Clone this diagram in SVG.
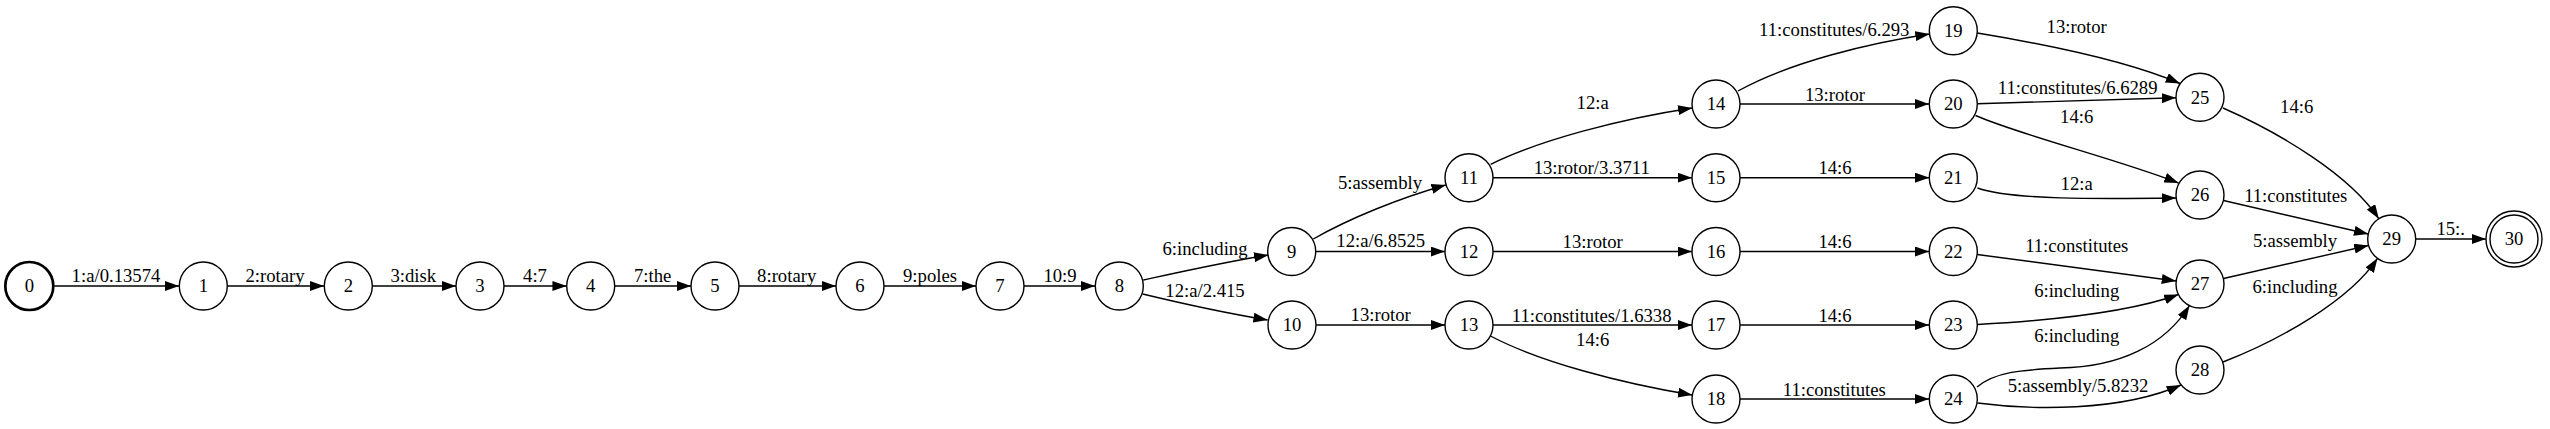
<svg xmlns="http://www.w3.org/2000/svg" width="2550" height="429" viewBox="0 0 2550 429">
<style>
text{font-family:"Liberation Serif","Times New Roman","DejaVu Serif",serif;font-size:18.7px;text-anchor:middle;fill:#000}
.n circle{fill:none;stroke:#000;stroke-width:1.4}
.e path{fill:none;stroke:#000;stroke-width:1.4;marker-end:url(#ah)}
</style>
<defs>
<marker id="ah" viewBox="0 0 10 7" refX="10" refY="3.5" markerWidth="14.3" markerHeight="10" markerUnits="userSpaceOnUse" orient="auto"><path d="M0,0 L10,3.5 L0,7 z" fill="#000"/></marker>
</defs>
<rect width="2550" height="429" fill="#fff"/>
<g id="edges" class="e" font-family="Liberation Serif, serif">
<g id="e0_1"><path d="M54.3,286 H179.3"/><text x="116" y="281.7">1:a/0.13574</text></g>
<g id="e1_2"><path d="M227.3,286 H324.3"/><text x="275" y="281.7">2:rotary</text></g>
<g id="e2_3"><path d="M372.3,286 H456"/><text x="413.3" y="281.7">3:disk</text></g>
<g id="e3_4"><path d="M504,286 H566.7"/><text x="535" y="281.7">4:7</text></g>
<g id="e4_5"><path d="M614.7,286 H691"/><text x="652.7" y="281.7">7:the</text></g>
<g id="e5_6"><path d="M739,286 H836"/><text x="786.7" y="281.7">8:rotary</text></g>
<g id="e6_7"><path d="M884,286 H976"/><text x="930" y="281.7">9:poles</text></g>
<g id="e7_8"><path d="M1024,286 H1095.3"/><text x="1060" y="282.3">10:9</text></g>
<g id="e8_9"><path d="M1143.3,280 C1180,272 1225,262 1268.3,255"/><text x="1205" y="255">6:including</text></g>
<g id="e8_10"><path d="M1142.7,294 C1180,303 1225,313 1267.7,320"/><text x="1205" y="296.7">12:a/2.415</text></g>
<g id="e9_11"><path d="M1313.3,239 C1350,218 1400,198 1445.7,185"/><text x="1380" y="188.7">5:assembly</text></g>
<g id="e9_12"><path d="M1315.7,251.5 H1445"/><text x="1380.7" y="246.7">12:a/6.8525</text></g>
<g id="e10_13"><path d="M1316,325 H1445"/><text x="1380.7" y="320.7">13:rotor</text></g>
<g id="e11_14"><path d="M1490.7,164.3 C1540,140 1620,119 1692.3,108"/><text x="1592.7" y="109">12:a</text></g>
<g id="e11_15"><path d="M1493,177.7 H1692"/><text x="1591.7" y="174">13:rotor/3.3711</text></g>
<g id="e12_16"><path d="M1493,251.5 H1692"/><text x="1592.7" y="248.3">13:rotor</text></g>
<g id="e13_17"><path d="M1493,325 H1692"/><text x="1591.7" y="321.7">11:constitutes/1.6338</text></g>
<g id="e13_18"><path d="M1490.5,336 C1540,362 1620,383 1692.3,395"/><text x="1592.7" y="346">14:6</text></g>
<g id="e14_19"><path d="M1738,91 C1790,62 1870,43 1929.6,34"/><text x="1834.3" y="35.7">11:constitutes/6.293</text></g>
<g id="e14_20"><path d="M1740,104 H1929.3"/><text x="1835" y="101">13:rotor</text></g>
<g id="e15_21"><path d="M1740,177.7 H1929.3"/><text x="1835" y="174">14:6</text></g>
<g id="e16_22"><path d="M1740,251.5 H1929.3"/><text x="1835" y="248.3">14:6</text></g>
<g id="e17_23"><path d="M1740,325 H1929.3"/><text x="1835" y="321.7">14:6</text></g>
<g id="e18_24"><path d="M1740,399 H1929.3"/><text x="1834.3" y="395.7">11:constitutes</text></g>
<g id="e19_25"><path d="M1977.3,33 C2050,45 2130,62 2180,83.5"/><text x="2076.7" y="33.3">13:rotor</text></g>
<g id="e20_25"><path d="M1977.3,103.7 C2050,102 2120,99.5 2176,97.8"/><text x="2077.7" y="94">11:constitutes/6.6289</text></g>
<g id="e20_26"><path d="M1975.5,115.5 C2020,135 2120,160 2178.5,183"/><text x="2076.7" y="122.7">14:6</text></g>
<g id="e21_26"><path d="M1977.5,188 C2010,200 2100,199 2176,198"/><text x="2076.7" y="190">12:a</text></g>
<g id="e22_27"><path d="M1977.3,254.5 C2050,264 2120,273 2176,281"/><text x="2076.7" y="252.3">11:constitutes</text></g>
<g id="e23_27"><path d="M1977.3,324.5 C2060,320 2130,312 2178.5,294.5"/><text x="2076.7" y="296.7">6:including</text></g>
<g id="e24_27"><path d="M1977,387 C1995,372 2020,370 2060,368 C2120,367 2165,345 2189.5,305.5"/><text x="2076.7" y="341.7">6:including</text></g>
<g id="e24_28"><path d="M1977.5,403 C2030,410 2120,412 2181,385"/><text x="2078" y="391.7">5:assembly/5.8232</text></g>
<g id="e25_29"><path d="M2223,108 C2280,133 2350,175 2378.8,218.8"/><text x="2296.7" y="113.3">14:6</text></g>
<g id="e26_29"><path d="M2223.5,200.5 L2368.3,234"/><text x="2295.7" y="201.7">11:constitutes</text></g>
<g id="e27_29"><path d="M2223.5,278.5 L2368.5,245.5"/><text x="2295" y="247.3">5:assembly</text></g>
<g id="e28_29"><path d="M2223,362 C2280,340 2350,300 2377.5,258.3"/><text x="2295" y="293.3">6:including</text></g>
<g id="e29_30"><path d="M2415.7,239 H2486"/><text x="2450.7" y="235">15:.</text></g>
</g>
<g class="n" font-family="Liberation Serif, serif">
<g id="node0"><circle cx="29.3" cy="286" r="24" style="stroke-width:2.7"/><text x="29.3" y="292.3">0</text></g>
<g id="node1"><circle cx="203.3" cy="286" r="24"/><text x="203.3" y="292.3">1</text></g>
<g id="node2"><circle cx="348.3" cy="286" r="24"/><text x="348.3" y="292.3">2</text></g>
<g id="node3"><circle cx="480" cy="286" r="24"/><text x="480" y="292.3">3</text></g>
<g id="node4"><circle cx="590.7" cy="286" r="24"/><text x="590.7" y="292.3">4</text></g>
<g id="node5"><circle cx="715" cy="286" r="24"/><text x="715" y="292.3">5</text></g>
<g id="node6"><circle cx="860" cy="286" r="24"/><text x="860" y="292.3">6</text></g>
<g id="node7"><circle cx="1000" cy="286" r="24"/><text x="1000" y="292.3">7</text></g>
<g id="node8"><circle cx="1119.3" cy="286" r="24"/><text x="1119.3" y="292.3">8</text></g>
<g id="node9"><circle cx="1291.7" cy="251.5" r="24"/><text x="1291.7" y="257.8">9</text></g>
<g id="node10"><circle cx="1292" cy="325" r="24"/><text x="1292" y="331.3">10</text></g>
<g id="node11"><circle cx="1469" cy="177.7" r="24"/><text x="1469" y="184">11</text></g>
<g id="node12"><circle cx="1469" cy="251.5" r="24"/><text x="1469" y="257.8">12</text></g>
<g id="node13"><circle cx="1469" cy="325" r="24"/><text x="1469" y="331.3">13</text></g>
<g id="node14"><circle cx="1716" cy="104" r="24"/><text x="1716" y="110.3">14</text></g>
<g id="node15"><circle cx="1716" cy="177.7" r="24"/><text x="1716" y="184">15</text></g>
<g id="node16"><circle cx="1716" cy="251.5" r="24"/><text x="1716" y="257.8">16</text></g>
<g id="node17"><circle cx="1716" cy="325" r="24"/><text x="1716" y="331.3">17</text></g>
<g id="node18"><circle cx="1716" cy="399" r="24"/><text x="1716" y="405.3">18</text></g>
<g id="node19"><circle cx="1953.3" cy="30.7" r="24"/><text x="1953.3" y="37">19</text></g>
<g id="node20"><circle cx="1953.3" cy="104" r="24"/><text x="1953.3" y="110.3">20</text></g>
<g id="node21"><circle cx="1953.3" cy="177.7" r="24"/><text x="1953.3" y="184">21</text></g>
<g id="node22"><circle cx="1953.3" cy="251.5" r="24"/><text x="1953.3" y="257.8">22</text></g>
<g id="node23"><circle cx="1953.3" cy="325" r="24"/><text x="1953.3" y="331.3">23</text></g>
<g id="node24"><circle cx="1953.3" cy="399" r="24"/><text x="1953.3" y="405.3">24</text></g>
<g id="node25"><circle cx="2200" cy="97.3" r="24"/><text x="2200" y="103.6">25</text></g>
<g id="node26"><circle cx="2200" cy="195" r="24"/><text x="2200" y="201.3">26</text></g>
<g id="node27"><circle cx="2200" cy="284" r="24"/><text x="2200" y="290.3">27</text></g>
<g id="node28"><circle cx="2200" cy="370" r="24"/><text x="2200" y="376.3">28</text></g>
<g id="node29"><circle cx="2391.7" cy="239" r="24"/><text x="2391.7" y="245.3">29</text></g>
<g id="node30"><circle cx="2514" cy="239" r="24"/><circle cx="2514" cy="239" r="28"/><text x="2514" y="245.3">30</text></g>
</g>
</svg>
